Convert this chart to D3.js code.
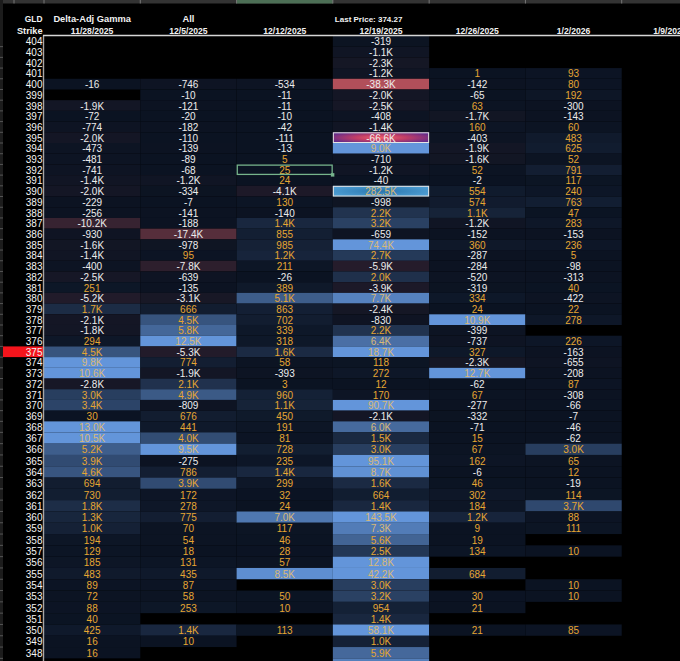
<!DOCTYPE html>
<html>
<head>
<meta charset="utf-8">
<script src="https://cdn.jsdelivr.net/npm/d3@7"></script>
<style>
  html, body { margin: 0; padding: 0; background: #000; overflow: hidden; }
  svg { display: block; }
</style>
</head>
<body>
<svg id="gex" width="680" height="661"></svg>
<script>
// strikes (rows) and expiries (columns)
const strikes = d3.range(404, 346, -1);
const expiries = ["11/28/2025", "12/5/2025", "12/12/2025", "12/19/2025", "12/26/2025", "1/2/2026", "1/9/2026"];

// delta-adjusted gamma per expiry, strike 404 -> 347 (null = empty cell)
const exp1128 = [null, null, null, null, -16, null, -1900, -72, -774, -2000, -473, -481, -741, -1400, -2000, -229, -256, -10200, -930, -1600, -1400, -400, -2500, 251, -5200, 1700, -2100, -1800, 294, 4500, 9800, 10600, -2800, 3000, 3400, 30, 13000, 10500, 5200, 3900, 4600, 694, 730, 1800, 1300, 1000, 194, 129, 185, 483, 89, 72, 88, 40, 425, 16, 16, null];
const exp1205 = [null, null, null, null, -746, -10, -121, -20, -182, -110, -139, -89, -68, -1200, -334, -7, -141, -188, -17400, -978, 95, -7800, -639, -135, -3100, 666, 4500, 5800, 12500, -5300, 774, -1900, 2100, 4900, -809, 676, 441, 4000, 9500, -275, 786, 3900, 172, 278, 775, 70, 54, 18, 131, 435, 87, 58, 253, null, 1400, 10, null, null];
const exp1212 = [null, null, null, null, -534, -11, -11, -10, -42, -111, -13, 5, 25, 24, -4100, 130, -140, 1400, 855, 985, 1200, 211, -26, 389, 5100, 863, 702, 339, 318, 1600, 58, -393, 3, 960, 1100, 450, 191, 81, 728, 235, 1400, 299, 32, 24, 7000, 117, 46, 28, 57, 8500, null, 50, 10, null, 113, null, null, null];
const exp1219 = [-319, -1100, -2300, -1200, -38300, -2000, -2500, -408, -1400, -66600, 9000, -710, -1200, -40, 282500, -998, 2200, 3200, -659, 74400, 2700, -5900, 2000, -3900, 7700, -2400, -830, 2200, 6400, 18700, 118, 272, 12, 170, 90700, -2100, 6000, 1500, 3000, 95100, 8700, 1600, 664, 1400, 143500, 7300, 5600, 2500, 12800, 42200, 3000, 3200, 954, 1400, 58100, 1000, 5900, 7500];
const exp1226 = [null, null, null, 1, -142, -65, 63, -1700, 160, -403, -1900, -1600, 52, -2, 554, 574, 1100, -1200, -152, 360, -287, -284, -520, -319, 334, 24, 10900, -399, -737, 327, -2300, 12700, -62, 67, -277, -332, -71, 15, 67, 162, -6, 46, 302, 184, 1200, 9, 19, 134, null, 684, null, 30, 21, null, 21, null, null, null];
const exp0102 = [null, null, null, 93, 80, 192, -300, -143, 60, 483, 625, 52, 791, 117, 240, 763, 47, 283, -153, 236, 5, -98, -313, 40, -422, 22, 278, null, 226, -163, -655, -208, 87, -308, -66, -7, -46, -62, 3000, 65, 12, -19, 114, 3700, 88, 111, null, 10, null, null, 10, 10, null, null, 85, null, null, null];
const exp0109 = strikes.map(() => null);

const lastPrice = 374.27;
const priceStrike = 375;
const selected = { strike: 392, expiry: "12/12/2025" };

const columns = [exp1128, exp1205, exp1212, exp1219, exp1226, exp0102, exp0109];

const svg = d3.select("#gex");
const W = +svg.attr("width");
const H = +svg.attr("height");
const FONT = "'Liberation Sans Narrow', 'Arial Narrow', 'Liberation Sans', sans-serif";
const HFONT = "'Liberation Sans', Arial, sans-serif";

// 스케일
const x = d3.scaleBand().domain(expiries).range([44, 718]).paddingInner(0).paddingOuter(0);
// rows are slightly taller toward the bottom of the screenshot
const y = d3.scaleLinear().domain([404, 368, 348]).range([41.3, 426.7, 652.7]);
const rowTop = s => y(s + 0.5);
const rowBot = s => y(s - 0.5);

// long format
const cells = [];
columns.forEach((col, ci) => {
    col.forEach((v, ri) => {
        if (v !== null) cells.push({ expiry: expiries[ci], strike: strikes[ri], value: v });
    });
});
const maxV = d3.max(cells, d => d.value);
const minV = d3.min(cells, d => d.value);

const posColor = d3.scaleLinear().domain([0, 9000]).range(["#0b1322", "#6395da"]).clamp(true);
const negColor = d3.scaleLinear().domain([-40000, 0]).range(["#b8525c", "#0b1322"]).clamp(true);
const fmt = v => Math.abs(v) >= 1000 ? (v / 1000).toFixed(1) + "K" : String(Math.round(v));

// gradients for the extreme cells
const defs = svg.append("defs");
const gMin = defs.append("radialGradient").attr("id", "gMin").attr("cx", "50%").attr("cy", "50%").attr("r", "60%");
gMin.append("stop").attr("offset", "0%").attr("stop-color", "#f0606a");
gMin.append("stop").attr("offset", "45%").attr("stop-color", "#c03d66");
gMin.append("stop").attr("offset", "100%").attr("stop-color", "#5e2a8c");
const gMax = defs.append("radialGradient").attr("id", "gMax").attr("cx", "50%").attr("cy", "50%").attr("r", "60%");
gMax.append("stop").attr("offset", "0%").attr("stop-color", "#2a76ae");
gMax.append("stop").attr("offset", "100%").attr("stop-color", "#4f9fd4");

// Excel column header strip
svg.append("rect").attr("x", 0).attr("y", 0).attr("width", W).attr("height", 3.5).attr("fill", "#333");
svg.append("rect").attr("x", x("12/12/2025")).attr("y", 0).attr("width", x.bandwidth()).attr("height", 3.5).attr("fill", "#4c6e55");
svg.selectAll(".colsep")
    .data([14].concat(expiries.map(d => x(d))))
    .enter()
    .append("line")
    .attr("x1", d => d).attr("x2", d => d)
    .attr("y1", 0).attr("y2", 3.5)
    .attr("stroke", "#777").attr("stroke-width", 1);

// cells
svg.selectAll(".cell")
    .data(cells)
    .enter()
    .append("rect")
    .attr("class", "cell")
    .attr("x", d => x(d.expiry))
    .attr("y", d => rowTop(d.strike))
    .attr("width", x.bandwidth())
    .attr("height", d => rowBot(d.strike) - rowTop(d.strike))
    .attr("fill", d => d.value === maxV ? "url(#gMax)" : d.value === minV ? "url(#gMin)" : d.value >= 0 ? posColor(d.value) : negColor(d.value));

// outline on the extreme cells
svg.selectAll(".extreme")
    .data(cells.filter(d => d.value === maxV || d.value === minV))
    .enter()
    .append("rect")
    .attr("x", d => x(d.expiry) + 0.5)
    .attr("y", d => rowTop(d.strike) + 0.5)
    .attr("width", x.bandwidth() - 1)
    .attr("height", d => rowBot(d.strike) - rowTop(d.strike) - 1)
    .attr("fill", "none")
    .attr("stroke", "#e4e4e4")
    .attr("stroke-width", 1);

// values
svg.selectAll(".val")
    .data(cells.filter(d => d.strike >= 348))
    .enter()
    .append("text")
    .attr("x", d => x(d.expiry) + x.bandwidth() / 2)
    .attr("y", d => y(d.strike) + 0.5)
    .attr("text-anchor", "middle")
    .attr("dominant-baseline", "central")
    .attr("fill", d => d.value < 0 ? "#ececec" : d.value >= 6000 ? "#d8b978" : "#e6a632")
    .style("font-family", FONT)
    .style("font-size", "10px")
    .text(d => fmt(d.value));

// selected cell (Excel cursor)
svg.append("rect")
    .attr("x", x(selected.expiry) + 0.7)
    .attr("y", rowTop(selected.strike) + 0.7)
    .attr("width", x.bandwidth() - 1.4)
    .attr("height", rowBot(selected.strike) - rowTop(selected.strike) - 1.4)
    .attr("fill", "none")
    .attr("stroke", "#76b48c")
    .attr("stroke-width", 1.3);
svg.append("rect")
    .attr("x", x(selected.expiry) + x.bandwidth() - 2)
    .attr("y", rowBot(selected.strike) - 2)
    .attr("width", 3.5).attr("height", 3.5)
    .attr("fill", "#76b48c");

// strike column
svg.append("rect").attr("x", 0).attr("y", 0).attr("width", 3).attr("height", H).attr("fill", "#1c1c1c");
svg.append("rect")
    .attr("x", 3)
    .attr("y", rowTop(priceStrike))
    .attr("width", 40.5)
    .attr("height", rowBot(priceStrike) - rowTop(priceStrike))
    .attr("fill", "#f4141c");
svg.selectAll(".tick")
    .data(strikes)
    .enter()
    .append("line")
    .attr("x1", 0).attr("x2", 3)
    .attr("y1", d => rowBot(d)).attr("y2", d => rowBot(d))
    .attr("stroke", "#555").attr("stroke-width", 1);
svg.selectAll(".strike")
    .data(strikes.filter(s => s >= 348))
    .enter()
    .append("text")
    .attr("x", 42.5)
    .attr("y", d => y(d) + 0.5)
    .attr("text-anchor", "end")
    .attr("dominant-baseline", "central")
    .attr("fill", "#f2f2f2")
    .style("font-family", FONT)
    .style("font-size", "10px")
    .text(d => d);

// grid border lines
svg.append("line").attr("x1", 43.5).attr("x2", 43.5).attr("y1", 35.5).attr("y2", H)
    .attr("stroke", "#a6a6a6").attr("stroke-width", 1.4);
svg.append("line").attr("x1", 43).attr("x2", W).attr("y1", 35.6).attr("y2", 35.6)
    .attr("stroke", "#d6d6d6").attr("stroke-width", 1.5);

// header
const header = svg.append("g")
    .style("font-family", HFONT)
    .style("font-weight", "bold")
    .attr("fill", "#f2f2f2");
header.append("text").attr("x", 42.5).attr("y", 21.5).attr("text-anchor", "end").style("font-size", "8.4px").text("GLD");
header.append("text").attr("x", 42.5).attr("y", 34).attr("text-anchor", "end").style("font-size", "9.2px").text("Strike");
header.append("text").attr("x", x(expiries[0]) + x.bandwidth() / 2).attr("y", 21.5).attr("text-anchor", "middle").style("font-size", "9.3px").text("Delta-Adj Gamma");
header.append("text").attr("x", x(expiries[1]) + x.bandwidth() / 2).attr("y", 21.5).attr("text-anchor", "middle").style("font-size", "9.3px").text("All");
header.append("text").attr("x", x(expiries[3]) + 2).attr("y", 21.5).attr("text-anchor", "start").style("font-size", "8px").text(`Last Price: ${lastPrice}`);
header.selectAll(".date")
    .data(expiries)
    .enter()
    .append("text")
    .attr("x", d => x(d) + x.bandwidth() / 2)
    .attr("y", 34)
    .attr("text-anchor", "middle")
    .style("font-size", "8.6px")
    .text(d => d);
</script>
</body>
</html>
